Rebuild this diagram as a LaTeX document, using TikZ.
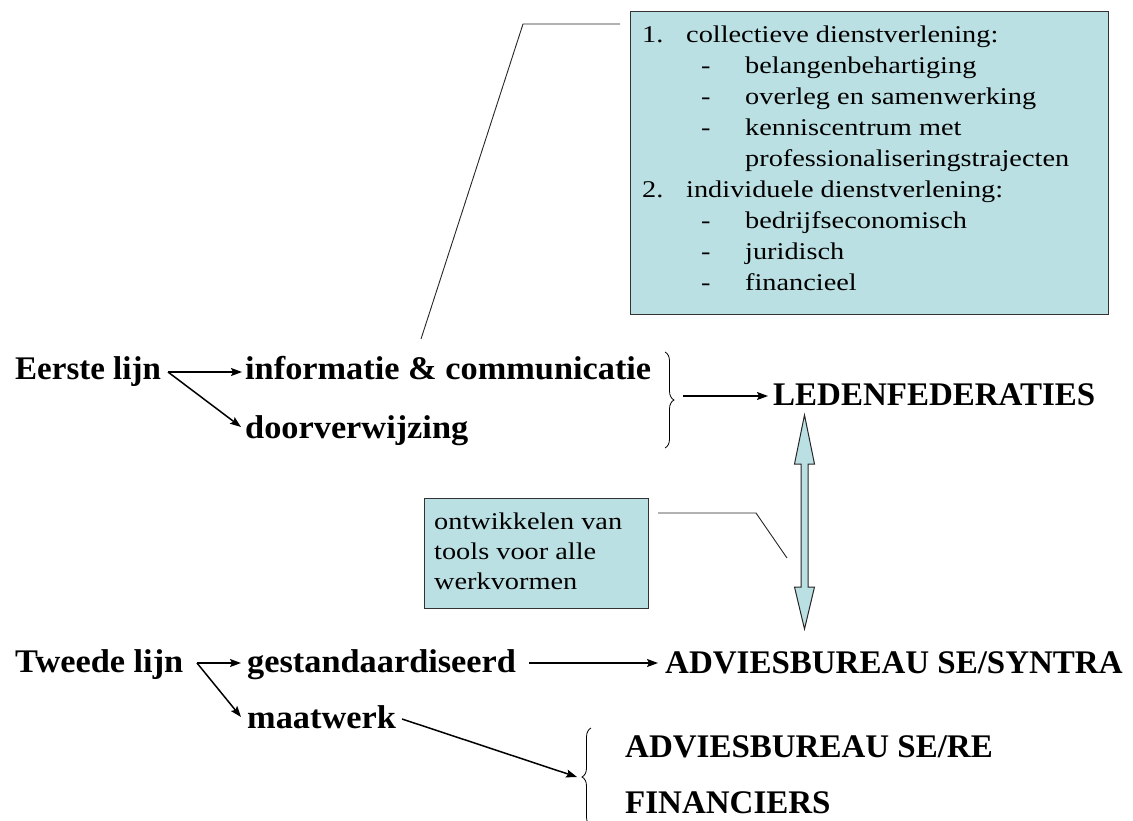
\documentclass[tikz,border=0pt]{standalone}
\usepackage{fontspec}
\setmainfont{Liberation Serif}
\newfontfamily\boxfont[FakeStretch=1.18]{Liberation Serif}
\newfontfamily\lblfont[FakeStretch=1.04]{Liberation Serif}
\usetikzlibrary{arrows.meta,decorations.pathreplacing,calc}
\definecolor{boxcyan}{RGB}{187,224,227}
\begin{document}
\begin{tikzpicture}[x=1pt,y=-1pt,
  lbl/.style={anchor=base west, inner sep=0, font=\fontsize{33}{36}\selectfont\bfseries},
  lbll/.style={anchor=base west, inner sep=0, font=\lblfont\fontsize{33}{36}\selectfont\bfseries},
  arr/.style={-{Stealth[length=11pt,width=8pt,inset=2pt]}, line width=1.5pt},
  callout/.style={line width=0.9pt, draw=black!85},
  boxfill/.style={draw=black!80, line width=1pt, fill=boxcyan, inner sep=0},
  txt/.style={anchor=base west, inner sep=0},
  bracestyle/.style={decorate, decoration={brace, amplitude=9pt}, line width=0.8pt}]
\useasboundingbox (0,0) rectangle (1133,820);

% top box
\node[boxfill, anchor=north west, minimum width=478pt, minimum height=303pt] (topbox) at (630,11) {};
\node[txt] (toptext) at (642,42) {\parbox[t]{460pt}{\boxfont\fontsize{24}{31}\selectfont
\makebox[44pt][l]{1.}collectieve dienstverlening:\\
\hspace*{59pt}\makebox[44pt][l]{-}belangenbehartiging\\
\hspace*{59pt}\makebox[44pt][l]{-}overleg en samenwerking\\
\hspace*{59pt}\makebox[44pt][l]{-}kenniscentrum met\\
\hspace*{103pt}professionaliseringstrajecten\\
\makebox[44pt][l]{2.}individuele dienstverlening:\\
\hspace*{59pt}\makebox[44pt][l]{-}bedrijfseconomisch\\
\hspace*{59pt}\makebox[44pt][l]{-}juridisch\\
\hspace*{59pt}\makebox[44pt][l]{-}financieel}};

% small box
\node[boxfill, anchor=north west, minimum width=224pt, minimum height=110pt] (toolbox) at (424,498) {};
\node[txt] (tooltext) at (434,529) {\parbox[t]{210pt}{\boxfont\fontsize{24}{30}\selectfont
ontwikkelen van\\tools voor alle\\werkvormen}};

% labels
\node[lbl] (eerste) at (15,379) {Eerste lijn};
\node[lbll] (info) at (245,379) {informatie \& communicatie};
\node[lbll] (door) at (245,438) {doorverwijzing};
\node[lbl] (leden) at (773,405) {LEDENFEDERATIES};
\node[lbll] (tweede) at (15,672) {Tweede lijn};
\node[lbll] (gest) at (247,672) {gestandaardiseerd};
\node[lbl] (syntra) at (665,673) {ADVIESBUREAU SE/SYNTRA};
\node[lbll] (maat) at (247,728) {maatwerk};
\node[lbl] (sere) at (625,757) {ADVIESBUREAU SE/RE};
\node[lbl] (fin) at (625,813) {FINANCIERS};

% braces
\coordinate (b1top) at (665,352);
\coordinate (b1bot) at (665,448);
\draw[bracestyle] (b1top) -- (b1bot);
\coordinate (b1tip) at (683,396);
\coordinate (b2bot) at (591,826);
\coordinate (b2top) at (591,728);
\draw[bracestyle] (b2bot) -- (b2top);
\coordinate (b2tip) at (577,777);

% arrows first line
\coordinate (e0) at ([xshift=-77pt,yshift=7pt]info.base west);
\draw[arr] (e0) -- ([xshift=-3pt,yshift=7pt]info.base west);
\draw[arr] (e0) -- ([xshift=-4pt,yshift=11pt]door.base west);
\draw[arr] (b1tip) -- ([xshift=-5pt,yshift=9pt]leden.base west);

% arrows second line
\coordinate (t0) at ([xshift=-50pt,yshift=9pt]gest.base west);
\draw[arr] (t0) -- ([xshift=-6pt,yshift=9pt]gest.base west);
\draw[arr] (t0) -- ([xshift=-6pt,yshift=11pt]maat.base west);
\draw[arr] ([xshift=13pt,yshift=9pt]gest.base east) -- ([xshift=-7pt,yshift=10pt]syntra.base west);
\draw[arr] ([xshift=6pt,yshift=9pt]maat.base east) -- (b2tip);

% double block arrow
\draw[draw=black!85, line width=1pt, fill=boxcyan]
  (804.5,415) -- (814.5,464) -- (808,464) -- (808,587) -- (814.5,587) -- (804.5,629)
  -- (794.5,587) -- (801,587) -- (801,464) -- (794.5,464) -- cycle;
\coordinate (dbl) at (787,558);

% callouts
\coordinate (c1a) at ([xshift=-10pt]topbox.north west |- 0,24);
\coordinate (c1b) at (523,24);
\coordinate (c1c) at (421,339);
\draw[callout] (c1a) -- (c1b) -- (c1c);
\coordinate (c2a) at ([xshift=9pt]toolbox.north east |- 0,513);
\coordinate (c2b) at (756,513);
\draw[callout] (c2a) -- (c2b) -- (dbl);
\end{tikzpicture}
\end{document}
